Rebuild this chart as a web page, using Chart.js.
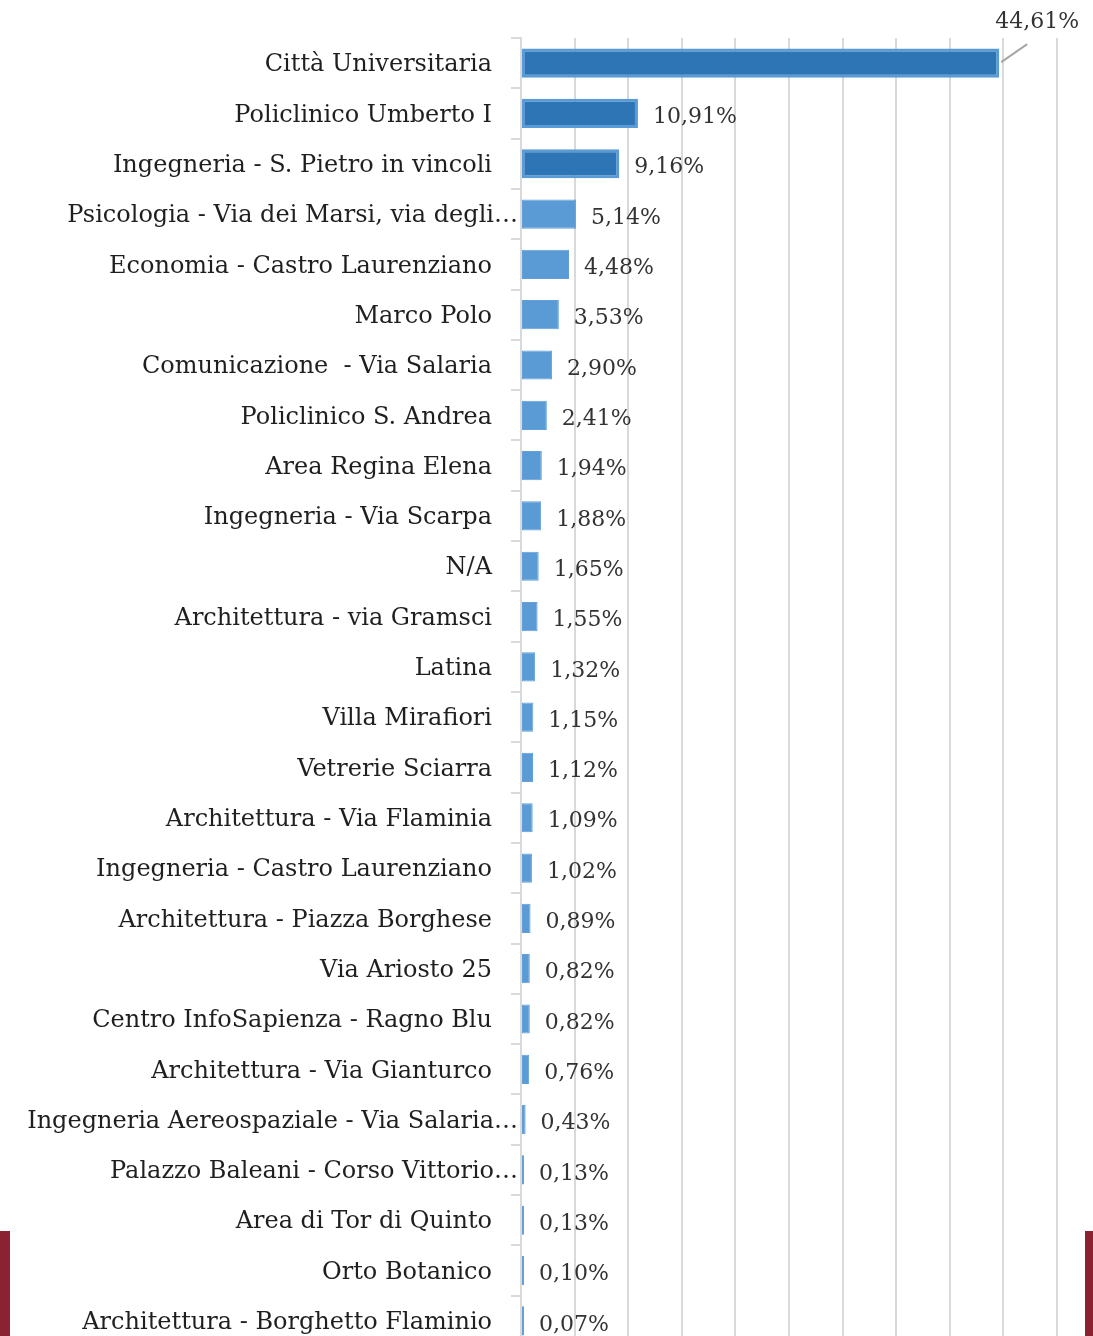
<!DOCTYPE html>
<html lang="it">
  <head>
    <meta charset="UTF-8" />
    <title>Sedi</title>
    <script src="https://cdn.jsdelivr.net/npm/chart.js@4.4.1/dist/chart.umd.min.js"></script>
    <style>
      body {
        margin: 0;
        padding: 0;
        background: #ffffff;
        overflow: hidden;
        width: 1093px;
        height: 1336px;
        position: relative;
      }
      .chart-box {
        position: absolute;
        left: 0;
        top: 0;
        width: 1093px;
        height: 1350px;
      }
      .strip {
        position: absolute;
        top: 1231px;
        height: 105px;
        background: #8b2232;
      }
    </style>
  </head>
  <body>
    <div class="chart-box"><canvas id="chartSedi"></canvas></div>
    <div class="strip" style="left: 0; width: 10px"></div>
    <div class="strip" style="left: 1085px; width: 8px"></div>

    <script>
      const categories = [
        "Città Universitaria",
        "Policlinico Umberto I",
        "Ingegneria - S. Pietro in vincoli",
        "Psicologia - Via dei Marsi, via degli…",
        "Economia - Castro Laurenziano",
        "Marco Polo",
        "Comunicazione  - Via Salaria",
        "Policlinico S. Andrea",
        "Area Regina Elena",
        "Ingegneria - Via Scarpa",
        "N/A",
        "Architettura - via Gramsci",
        "Latina",
        "Villa Mirafiori",
        "Vetrerie Sciarra",
        "Architettura - Via Flaminia",
        "Ingegneria - Castro Laurenziano",
        "Architettura - Piazza Borghese",
        "Via Ariosto 25",
        "Centro InfoSapienza - Ragno Blu",
        "Architettura - Via Gianturco",
        "Ingegneria Aereospaziale - Via Salaria…",
        "Palazzo Baleani - Corso Vittorio…",
        "Area di Tor di Quinto",
        "Orto Botanico",
        "Architettura - Borghetto Flaminio",
      ];
      const percentuali = [
        44.61, 10.91, 9.16, 5.14, 4.48, 3.53, 2.9, 2.41, 1.94, 1.88, 1.65,
        1.55, 1.32, 1.15, 1.12, 1.09, 1.02, 0.89, 0.82, 0.82, 0.76, 0.43,
        0.13, 0.13, 0.1, 0.07,
      ];
      const xTicks = [0, 5, 10, 15, 20, 25, 30, 35, 40, 45, 50];

      const scuro = "#2e75b6";
      const chiaro = "#5b9bd5";
      const fontTesto = '"DejaVu Serif", serif';

      function formatta(v) {
        return v.toFixed(2).replace(".", ",") + "%";
      }

      // etichette delle categorie e dei valori
      const etichette = {
        id: "etichette",
        afterDatasetsDraw(chart) {
          const ctx = chart.ctx;
          const yScale = chart.scales.y;
          const area = chart.chartArea;
          const meta = chart.getDatasetMeta(0);
          ctx.save();

          ctx.font = "24px " + fontTesto;
          ctx.fillStyle = "#1f1f1f";
          ctx.textAlign = "right";
          ctx.textBaseline = "middle";
          categories.forEach((c, i) => {
            const y = yScale.getPixelForTick(i) + 2;
            const x = c.endsWith("…") ? yScale.right - 3 : yScale.right - 29;
            ctx.fillText(c, x, y);
          });

          ctx.font = "22px " + fontTesto;
          ctx.fillStyle = "#333333";
          meta.data.forEach((bar, i) => {
            const testo = formatta(percentuali[i]);
            const w = ctx.measureText(testo).width;
            if (bar.x + 15 + w > area.right) {
              // fuori dall'area: etichetta sopra con linea guida
              ctx.strokeStyle = "#a6a6a6";
              ctx.lineWidth = 2;
              ctx.beginPath();
              ctx.moveTo(bar.x + 2, bar.y - 1);
              ctx.lineTo(bar.x + 28, bar.y - 19);
              ctx.stroke();
              ctx.textAlign = "center";
              ctx.fillText(testo, bar.x + 38, bar.y - 41);
            } else {
              ctx.textAlign = "left";
              ctx.fillText(testo, bar.x + 15, bar.y + 4);
            }
          });
          ctx.restore();
        },
      };

      new Chart(document.getElementById("chartSedi"), {
        type: "bar",
        data: {
          labels: categories,
          datasets: [
            {
              data: percentuali,
              backgroundColor: percentuali.map((v, i) => (i < 3 ? scuro : chiaro)),
              borderColor: percentuali.map((v, i) => (i < 3 ? chiaro : "#639fd8")),
              borderWidth: percentuali.map((v, i) => (i < 3 ? 3 : 1)),
              borderSkipped: false,
              categoryPercentage: 1.0,
              barPercentage: 0.58,
              minBarLength: 3,
            },
          ],
        },
        options: {
          indexAxis: "y",
          responsive: true,
          maintainAspectRatio: false,
          animation: false,
          layout: {
            padding: { left: 0, top: 38, right: 36, bottom: 4 },
          },
          plugins: {
            legend: { display: false },
            tooltip: { enabled: false },
          },
          scales: {
            x: {
              min: xTicks[0],
              max: xTicks[xTicks.length - 1],
              afterBuildTicks(scale) {
                scale.ticks = xTicks.map((v) => ({ value: v }));
              },
              ticks: { display: false },
              border: { display: false },
              grid: { color: "#d9d9d9", lineWidth: 2, drawTicks: false },
            },
            y: {
              afterFit(scale) {
                scale.width = 521;
              },
              ticks: { display: false },
              border: { display: true, color: "#d9d9d9", width: 2 },
              grid: {
                drawOnChartArea: false,
                drawTicks: true,
                tickLength: 10,
                color: "#d9d9d9",
                lineWidth: 2,
              },
            },
          },
        },
        plugins: [etichette],
      });
    </script>
  </body>
</html>
